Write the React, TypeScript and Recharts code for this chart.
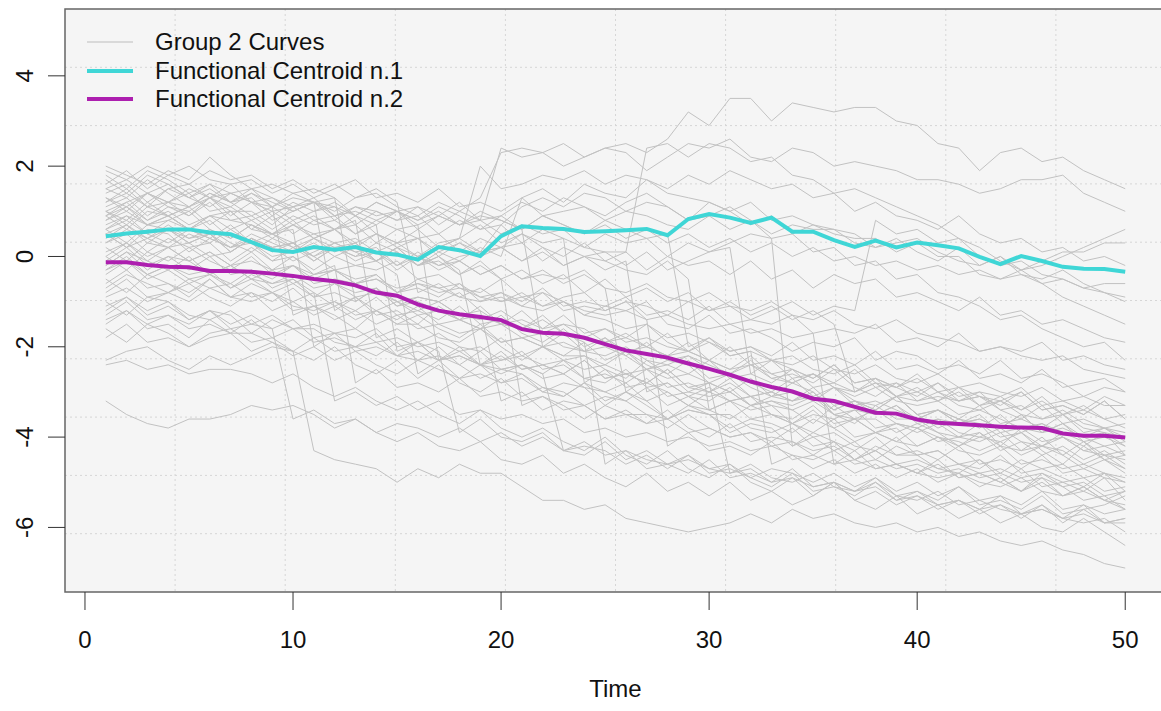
import { LineChart, Line, XAxis, YAxis, CartesianGrid, ReferenceArea, Legend } from 'recharts';

const TIME = [
  1, 2, 3, 4, 5, 6, 7, 8, 9, 10, 11, 12, 13, 14, 15, 16, 17, 18, 19, 20, 21, 22, 23, 24, 25,
  26, 27, 28, 29, 30, 31, 32, 33, 34, 35, 36, 37, 38, 39, 40, 41, 42, 43, 44, 45, 46, 47, 48, 49, 50,
];

// curves that stay high (some jump up around t = 19-27)
const CURVE_U01 = [1.2, 1.4, 1.1, 1.5, 1.6, 1.3, 1.4, 1.2, 1.1, 1.3, 1.2, 1.0, 1.3, 1.4, 1.1, 0.9, 1.2, 1.0, 1.3, 2.3, 2.4, 2.3, 2.5, 2.2, 2.4, 2.5, 2.3, 2.6, 3.2, 2.9, 3.5, 3.5, 3.0, 3.4, 3.3, 3.2, 3.3, 3.3, 3.0, 2.9, 2.5, 2.4, 1.9, 2.3, 2.4, 2.1, 2.2, 1.9, 1.7, 1.5];
const CURVE_U02 = [0.9, 1.2, 1.4, 1.1, 1.0, 1.3, 1.6, 1.2, 1.0, 1.1, 1.3, 0.9, 1.0, 0.8, 1.0, 0.7, 0.9, 1.2, 0.8, 2.4, 2.2, 2.3, 2.0, 2.2, 2.4, 2.3, 1.9, 2.2, 2.5, 2.4, 2.6, 2.2, 2.1, 2.4, 2.3, 2.0, 2.1, 2.0, 1.9, 1.7, 1.7, 1.6, 1.4, 1.5, 1.7, 1.7, 1.8, 1.4, 1.2, 1.0];
const CURVE_U03 = [0.6, 0.9, 0.7, 0.8, 1.0, 0.6, 0.4, 0.7, 0.5, 0.3, 0.5, 0.3, 0.4, 0.1, 0.3, 0.0, 0.3, 0.4, 0.1, 0.2, 0.5, 0.3, 0.4, 0.2, 0.1, 0.1, 2.4, 2.5, 2.2, 2.5, 2.4, 2.1, 2.2, 1.8, 1.7, 1.4, 1.5, 1.3, 1.1, 0.9, 0.7, 0.4, 0.2, -0.1, -0.3, -0.2, 0.0, 0.2, 0.4, 0.6];
const CURVE_U04 = [0.3, 0.6, 0.4, 0.2, 0.5, 0.3, 0.6, 0.3, 0.0, 0.1, 0.4, 0.2, 0.3, -0.1, 0.2, 0.0, 0.2, 0.4, 2.0, 1.5, 1.6, 1.8, 1.7, 1.9, 1.6, 1.8, 1.7, 1.4, 1.3, 1.2, 1.0, 1.2, 0.8, 0.9, 0.7, 0.5, 0.4, 0.4, 0.1, 0.3, 0.0, 0.0, -0.4, -0.5, -0.3, -0.6, -0.9, -1.1, -1.3, -1.5];
const CURVE_U05 = [1.6, 1.9, 1.5, 1.8, 2.0, 1.7, 1.6, 1.7, 1.4, 1.6, 1.3, 1.5, 1.7, 1.3, 1.4, 1.2, 1.5, 1.1, 1.2, 1.0, 1.3, 0.9, 1.0, 1.1, 0.8, 1.0, 0.9, 0.7, 0.6, 0.9, 1.1, 0.8, 0.5, 0.7, 0.6, 0.6, 0.3, 0.2, 0.4, 0.1, -0.1, 0.2, -0.2, 0.0, -0.3, -0.1, 0.1, 0.1, 0.3, 0.3];
const CURVE_U06 = [0.0, 0.3, -0.1, 0.2, 0.3, 0.0, 0.1, 0.4, 0.2, -0.1, 0.1, 0.3, 0.1, 0.2, -0.2, 0.1, -0.2, 0.0, 0.1, 0.7, 1.1, 1.3, 1.1, 1.4, 1.3, 1.0, 1.2, 1.1, 0.8, 1.2, 1.0, 0.7, 0.9, 0.5, 0.7, 0.6, 0.5, 0.2, 0.3, 0.4, 0.1, -0.1, -0.2, 0.0, -0.4, -0.5, -0.3, -0.6, -0.8, -0.9];
const CURVE_U07 = [0.8, 1.1, 0.7, 0.9, 0.6, 0.9, 1.0, 0.6, 0.5, 0.8, 0.4, 0.6, 0.9, 0.5, 0.3, 0.6, 0.2, 0.4, 0.7, 0.3, 0.5, 0.2, 0.0, 0.3, -0.1, 0.1, -0.3, 0.0, -0.2, -0.1, -0.4, -0.1, -0.5, -0.3, -0.7, -0.4, -0.6, -0.5, -0.9, -0.8, -1.0, -1.2, -0.9, -1.3, -1.2, -1.5, -1.4, -1.6, -1.8, -1.9];
const CURVE_U08 = [-0.2, 0.1, -0.3, 0.0, -0.1, -0.4, -0.2, -0.5, -0.3, -0.6, -0.4, -0.3, -0.6, -0.5, -0.8, -0.6, -0.7, -0.9, -0.7, -1.0, -0.8, -1.1, -0.9, -0.8, -1.2, -1.0, -1.1, -1.3, -1.0, -1.2, -1.1, -1.4, -1.2, -1.0, -1.3, -1.1, -1.2, 0.8, 0.5, 0.6, 0.3, 0.4, 0.0, -0.2, -0.1, -0.4, -0.5, -0.7, -0.8, -1.0];
const CURVE_U09 = [1.0, 0.8, 1.2, 0.9, 1.1, 1.4, 1.2, 0.9, 1.1, 0.8, 1.0, 1.2, 0.9, 0.7, 1.0, 0.8, 1.1, 0.9, 0.6, 0.9, 1.2, 1.0, 1.3, 1.1, 0.9, 1.2, 1.4, 1.1, 0.8, 0.9, 0.6, 0.8, 0.4, 0.5, 0.1, 0.2, -0.2, -0.1, -0.5, -0.4, -0.8, -0.9, -1.1, -1.4, -1.3, -1.6, -1.8, -2.0, -1.9, -2.3];
const CURVE_U10 = [0.5, 0.2, 0.4, 0.7, 0.4, 0.6, 0.3, 0.1, 0.4, 0.2, -0.1, 0.2, 0.0, 0.3, 0.1, -0.2, 0.1, -0.1, 0.2, 0.0, 1.3, 1.5, 1.2, 1.6, 1.4, 1.3, 1.7, 1.5, 1.8, 1.6, 1.9, 1.7, 1.5, 1.6, 1.3, 1.4, 1.0, 1.2, 0.9, 0.8, 0.6, 0.9, 0.5, 0.3, 0.4, 0.1, 0.2, -0.1, 0.0, -0.2];
const CURVE_U11 = [1.3, 1.1, 1.4, 1.2, 1.5, 1.3, 1.1, 1.4, 1.2, 1.0, 1.2, 1.1, 0.9, 1.2, 1.0, 0.8, 1.0, 0.7, 0.9, 0.8, 0.6, 0.9, 0.7, 0.5, 0.7, 0.4, 0.6, 0.3, 0.5, 0.2, 0.4, 0.1, 0.3, 0.0, 0.2, -0.1, 0.0, -0.2, -0.1, -0.3, -0.2, -0.4, -0.3, -0.5, -0.4, -0.6, -0.5, -0.7, -0.6, -0.6];

// curves that drift down (many with a sudden drop)
const CURVE_L01 = [1.8, 1.5, 1.9, 1.7, 1.4, 1.6, 1.2, 1.5, 1.3, 1.1, 1.2, -1.2, -0.9, -1.3, -1.2, -1.5, -1.1, -1.4, -1.6, -1.5, -1.8, -1.7, -2.0, -2.1, -1.8, -2.2, -2.5, -2.3, -2.4, -2.8, -2.6, -2.9, -3.1, -2.8, -3.0, -3.4, -3.2, -3.3, -3.1, -3.5, -3.8, -3.6, -3.7, -4.0, -3.9, -4.2, -3.9, -4.1, -4.4, -4.3];
const CURVE_L02 = [1.2, 1.5, 1.1, 1.2, 0.9, 1.3, 1.0, 1.0, 0.7, 1.1, 0.8, 0.9, 0.5, 0.8, 0.6, 0.7, -2.3, -2.0, -2.4, -2.3, -2.1, -2.5, -2.4, -2.7, -2.8, -2.5, -2.9, -2.8, -3.1, -3.2, -2.9, -3.3, -3.2, -3.4, -3.7, -3.3, -3.6, -3.6, -3.9, -3.7, -3.9, -4.2, -4.0, -4.1, -3.9, -4.3, -4.6, -4.2, -4.5, -4.4];
const CURVE_L03 = [0.5, 0.2, 0.6, 0.5, 0.1, 0.4, 0.2, 0.3, -0.1, 0.2, 0.0, -0.3, -0.2, -0.3, -0.1, -0.5, -0.4, -0.7, -0.8, -0.5, -0.9, -0.8, -1.0, -1.3, -1.1, -1.2, -1.0, -1.5, -1.6, -1.3, -1.7, -1.6, -1.8, -2.1, -1.9, -2.0, -1.8, -2.3, -2.1, -2.2, -2.5, -2.4, -2.6, -2.3, -2.7, -2.6, -2.8, -3.1, -2.9, -3.0];
const CURVE_L04 = [-0.5, -0.8, -0.4, -0.6, -0.9, -0.5, -0.9, -1.0, -0.8, -1.2, -1.1, -1.3, -1.6, -1.2, -1.5, -1.5, -1.8, -1.9, -1.6, -2.0, -2.3, -2.0, -2.2, -2.2, -2.5, -2.7, -2.3, -2.6, -3.0, -2.8, -3.0, -3.3, -3.1, -3.2, -3.0, -3.5, -3.7, -3.3, -3.6, -3.6, -3.9, -4.0, -3.7, -4.2, -4.3, -4.0, -4.4, -4.7, -4.5, -4.8];
const CURVE_L05 = [-1.0, -1.3, -0.9, -1.0, -1.4, -1.2, -1.3, -1.7, -1.4, -1.6, -1.6, -1.9, -2.0, -1.7, -2.2, -2.3, -2.0, -2.4, -2.7, -2.5, -2.6, -3.0, -2.8, -2.9, -3.3, -3.0, -3.2, -3.6, -3.4, -3.5, -3.9, -3.7, -3.8, -4.2, -3.9, -4.1, -4.5, -4.2, -4.4, -4.4, -4.7, -4.8, -4.5, -4.9, -5.2, -4.8, -5.1, -5.4, -5.3, -5.6];
const CURVE_L06 = [-1.5, -1.2, -1.6, -1.5, -1.8, -1.4, -1.7, -1.7, -1.9, -2.1, -4.3, -4.5, -4.6, -4.7, -5.0, -4.7, -4.9, -4.6, -4.8, -4.8, -5.1, -5.4, -5.4, -5.6, -5.5, -5.8, -5.9, -6.0, -6.1, -6.0, -5.9, -5.7, -5.9, -5.6, -5.8, -5.7, -5.9, -6.0, -5.9, -6.1, -6.0, -6.2, -6.1, -6.3, -6.4, -6.3, -6.5, -6.6, -6.8, -6.9];
const CURVE_L07 = [-2.4, -2.3, -2.5, -2.4, -2.6, -2.5, -2.5, -2.6, -2.8, -2.6, -2.9, -3.1, -2.9, -3.2, -3.4, -3.2, -3.5, -3.7, -3.4, -3.8, -4.0, -3.8, -4.1, -4.3, -4.0, -4.4, -4.6, -4.3, -4.7, -4.9, -4.6, -5.0, -5.2, -4.9, -5.3, -5.0, -5.4, -5.6, -5.3, -5.7, -5.5, -5.8, -5.6, -5.9, -5.7, -6.0, -6.1, -5.8, -6.1, -6.4];
const CURVE_L08 = [-3.2, -3.5, -3.7, -3.8, -3.6, -3.6, -3.5, -3.3, -3.4, -3.3, -3.5, -3.8, -3.6, -3.9, -4.1, -3.9, -4.2, -4.3, -4.1, -4.5, -4.6, -4.4, -4.8, -4.6, -4.9, -5.1, -4.8, -5.2, -5.0, -5.3, -5.0, -5.4, -5.2, -5.5, -5.3, -5.0, -5.4, -5.2, -5.5, -5.3, -5.6, -5.4, -5.7, -5.5, -5.8, -5.5, -5.9, -5.6, -5.9, -5.8];
const CURVE_L09 = [-2.3, -2.1, -2.0, -2.3, -2.5, -2.2, -2.4, -2.2, -2.0, -2.1, -2.3, -2.0, -2.4, -2.6, -2.3, -2.7, -2.4, -2.8, -3.0, -2.7, -3.1, -2.9, -3.0, -3.3, -3.1, -3.2, -3.5, -3.6, -3.3, -3.5, -3.8, -3.6, -3.7, -3.9, -3.6, -3.8, -4.1, -3.9, -3.8, -4.2, -4.0, -4.1, -4.3, -4.1, -4.4, -4.2, -4.3, -4.6, -4.4, -4.7];
const CURVE_L10 = [2.0, 1.8, 1.6, 1.9, 1.7, 2.2, 1.8, 1.5, 1.6, 1.4, 1.5, 1.3, -1.0, -0.7, -1.1, -0.9, -1.0, -1.3, -1.2, -1.5, -1.2, -1.6, -1.5, -1.6, -1.9, -1.8, -2.0, -1.7, -2.1, -2.3, -2.0, -2.4, -2.3, -2.5, -2.7, -2.4, -2.8, -2.7, -2.9, -3.1, -2.8, -3.2, -3.1, -3.2, -3.0, -3.4, -3.3, -3.5, -3.2, -3.6];
const CURVE_L11 = [1.5, 1.3, 1.7, 1.4, 1.1, 1.4, 1.2, 1.3, 0.9, 1.2, 1.0, 1.1, 0.7, 1.0, 0.8, 0.9, 0.5, 0.8, 0.6, 0.7, 0.3, 0.6, 0.4, -2.8, -2.5, -2.9, -2.8, -3.0, -3.3, -3.0, -3.2, -3.1, -3.5, -3.6, -3.3, -3.7, -3.6, -3.9, -3.7, -3.8, -4.1, -4.0, -4.1, -3.9, -4.3, -4.2, -4.4, -4.1, -4.5, -4.7];
const CURVE_L12 = [1.0, 0.7, 1.1, 0.9, 0.6, 0.9, 0.8, 0.7, 0.4, 0.7, 0.5, 0.6, 0.2, 0.5, 0.3, 0.4, 0.0, 0.3, 0.1, 0.2, -0.1, 0.2, -0.2, 0.0, -0.1, -0.3, -0.4, -0.1, -0.5, -3.4, -3.2, -3.4, -3.3, -3.7, -3.5, -3.6, -3.4, -3.8, -3.7, -3.9, -3.7, -4.0, -3.9, -4.2, -3.8, -4.1, -4.0, -4.3, -4.2, -4.4];
const CURVE_L13 = [0.8, 1.0, 0.7, 0.9, 1.1, 0.7, 1.0, 0.6, 0.9, 0.5, 0.8, 0.6, 0.7, 0.3, 0.6, 0.4, 0.5, 0.1, 0.4, 0.2, 0.3, -0.1, 0.2, 0.0, 0.1, -0.2, 0.1, -0.3, -0.1, 0.1, 0.3, 0.5, 0.4, -4.2, -4.0, -4.3, -4.1, -4.5, -4.2, -4.4, -4.3, -4.6, -4.5, -4.8, -4.5, -4.7, -4.6, -4.9, -4.8, -5.0];
const CURVE_L14 = [0.3, 0.5, 0.1, 0.4, 0.2, 0.3, -0.1, 0.2, -0.1, 0.0, -0.3, 0.0, -0.2, -0.1, -0.4, -2.6, -2.3, -2.7, -2.6, -2.8, -2.7, -3.0, -3.1, -2.8, -3.2, -3.0, -3.3, -3.6, -3.4, -3.5, -3.5, -3.8, -3.9, -3.7, -4.0, -3.9, -4.2, -4.3, -4.0, -4.4, -4.3, -4.6, -4.7, -4.4, -4.8, -4.7, -4.9, -5.1, -4.8, -5.2];
const CURVE_L15 = [-0.3, 0.0, -0.4, -0.2, -0.4, -0.3, -0.7, -0.4, -0.6, -0.5, -0.9, -0.6, -0.8, -0.7, -1.0, -0.9, -1.0, -0.8, -1.2, -3.2, -3.0, -3.4, -3.2, -3.3, -3.6, -3.5, -3.7, -3.4, -3.8, -4.0, -3.7, -4.1, -4.0, -4.1, -4.4, -4.1, -4.5, -4.3, -4.6, -4.8, -4.5, -4.9, -4.8, -5.0, -5.2, -4.9, -5.3, -5.2, -5.4, -5.6];
const CURVE_L16 = [0.0, -0.3, 0.1, -0.1, 0.2, -0.1, -0.3, 0.0, -0.4, -0.2, -0.5, -0.3, -0.5, -0.4, -0.8, -0.5, -0.7, -0.6, -0.9, -0.8, -1.0, -0.7, -1.1, -1.0, -1.1, -0.9, -1.3, -1.2, -1.4, -1.1, -1.5, -1.4, -1.5, -1.3, -1.7, -1.6, -1.7, -1.5, -1.9, -1.8, -2.0, -1.7, -2.1, -2.0, -2.1, -1.9, -2.3, -2.2, -2.4, -2.5];
const CURVE_L17 = [0.6, 0.3, 0.7, 0.6, 0.3, 0.5, 0.1, 0.4, 0.2, 0.3, -0.1, 0.2, 0.0, 0.1, -0.3, 0.0, -0.2, -0.1, -0.4, -0.2, -0.5, -0.4, -0.5, -0.3, -0.7, -3.0, -2.7, -3.1, -3.0, -3.1, -3.0, -3.3, -3.2, -3.3, -3.1, -3.5, -3.4, -3.5, -3.3, -3.7, -3.6, -3.7, -3.5, -3.9, -3.8, -3.9, -3.7, -4.1, -4.0, -4.2];
const CURVE_L18 = [-0.8, -0.5, -0.9, -0.8, -1.0, -0.7, -0.6, -0.9, -0.8, -1.1, -1.2, -1.0, -1.3, -1.2, -1.4, -1.1, -1.5, -1.4, -1.6, -1.3, -1.7, -1.9, -1.6, -2.0, -1.8, -2.1, -2.0, -2.2, -1.9, -2.3, -2.5, -2.2, -2.6, -2.5, -2.7, -2.4, -2.8, -2.7, -2.9, -2.6, -3.0, -2.9, -3.1, -3.3, -3.0, -3.4, -3.3, -3.5, -3.2, -3.6];
const CURVE_L19 = [-1.3, -1.0, -1.4, -1.3, -1.5, -1.2, -1.6, -1.5, -1.6, -1.4, -1.8, -1.7, -1.8, -1.6, -2.0, -1.9, -2.1, -3.9, -3.6, -4.0, -4.1, -3.9, -4.3, -4.2, -4.3, -4.6, -4.4, -4.7, -4.4, -4.8, -4.7, -4.9, -5.1, -4.8, -5.2, -5.1, -5.3, -5.0, -5.4, -5.2, -5.5, -5.4, -5.6, -5.3, -5.7, -5.6, -5.8, -5.5, -5.9, -5.8];
const CURVE_L20 = [1.3, 1.0, 1.4, 1.2, 1.1, 1.3, 0.9, 1.2, 0.8, 1.0, 1.2, 0.8, 1.1, 0.9, 1.0, 0.6, 0.9, 0.7, 0.8, 0.5, 0.7, 0.5, 0.6, 0.2, 0.5, 0.3, 0.4, 0.0, 0.3, 0.1, 0.2, -2.6, -2.3, -2.7, -2.6, -2.8, -2.5, -2.9, -2.8, -3.0, -2.8, -3.1, -3.0, -3.1, -2.9, -3.3, -3.2, -3.4, -3.1, -3.3];
const CURVE_L21 = [0.2, -0.1, 0.3, 0.2, -0.1, 0.1, -0.2, 0.1, -0.3, 0.0, -0.4, -0.2, -2.8, -2.5, -2.9, -2.8, -3.0, -2.7, -3.1, -3.0, -3.2, -3.1, -3.3, -3.6, -3.3, -3.5, -3.5, -3.8, -3.5, -3.8, -4.0, -3.9, -4.1, -3.8, -4.2, -4.1, -4.3, -4.0, -4.4, -4.3, -4.5, -4.2, -4.6, -4.5, -4.7, -4.4, -4.8, -4.7, -4.9, -5.0];
const CURVE_L22 = [-1.8, -1.5, -1.9, -1.8, -2.0, -1.7, -1.6, -1.9, -1.8, -2.1, -1.8, -2.1, -2.0, -2.2, -1.9, -2.3, -2.2, -2.4, -2.1, -2.5, -2.4, -2.6, -2.3, -2.7, -2.6, -2.8, -2.5, -2.9, -2.8, -3.0, -2.7, -3.1, -3.0, -3.2, -2.9, -3.3, -3.2, -3.4, -3.1, -3.5, -3.4, -3.6, -3.3, -3.7, -3.6, -3.8, -3.5, -3.9, -3.8, -4.0];
const CURVE_L23 = [1.7, 1.4, 1.8, 1.6, 1.3, 1.6, 1.4, 1.5, 1.1, 1.4, 1.2, 1.3, 0.9, 1.2, 1.0, 1.1, 0.7, 1.0, 0.8, 0.9, 0.6, -2.0, -1.7, -2.1, -2.0, -2.2, -1.9, -2.3, -2.2, -2.4, -2.6, -2.3, -2.7, -2.6, -2.8, -2.5, -2.9, -3.1, -2.8, -3.2, -3.1, -3.2, -3.0, -3.4, -3.6, -3.3, -3.7, -3.6, -3.8, -3.9];
const CURVE_L24 = [-0.1, 0.2, -0.2, 0.0, -0.3, 0.0, -0.4, -0.3, -0.5, -0.2, -0.6, -0.5, -0.6, -0.4, -0.8, -0.7, -0.9, -0.6, -1.0, -0.9, -1.1, -0.8, -1.2, -1.1, -1.2, -1.0, -1.4, -4.2, -3.9, -4.3, -4.2, -4.4, -4.1, -4.5, -4.4, -4.6, -4.3, -4.7, -4.6, -4.8, -4.6, -4.9, -4.8, -5.0, -4.7, -5.1, -5.0, -5.2, -4.9, -5.4];
const CURVE_L25 = [0.9, 0.6, 1.0, 0.9, 0.6, 0.8, 0.4, 0.7, 0.5, 0.6, -2.0, -1.7, -2.1, -2.0, -2.2, -1.9, -2.3, -2.2, -2.4, -2.1, -2.5, -2.4, -2.6, -2.3, -2.7, -2.6, -2.8, -2.5, -2.9, -2.8, -3.0, -2.7, -3.1, -3.0, -3.2, -2.9, -3.3, -3.2, -3.4, -3.6, -3.4, -3.7, -3.6, -3.8, -3.5, -3.9, -3.8, -4.0, -4.2, -4.1];
const CURVE_L26 = [-0.6, -0.3, -0.7, -0.6, -0.8, -0.5, -0.9, -0.8, -1.0, -0.7, -1.1, -1.0, -1.2, -0.9, -1.3, -1.2, -1.4, -1.1, -1.5, -1.4, -1.6, -1.3, -1.7, -1.9, -4.6, -4.3, -4.7, -4.6, -4.8, -4.5, -4.9, -4.8, -5.0, -4.7, -5.1, -5.0, -5.2, -4.9, -5.3, -5.2, -5.4, -5.1, -5.5, -5.4, -5.6, -5.3, -5.7, -5.6, -5.5, -5.3];
const CURVE_L27 = [1.1, 1.3, 0.9, 1.2, 1.4, 1.0, 1.1, 0.8, 1.0, 0.7, 0.9, 0.6, 0.8, -1.8, -1.6, -1.9, -1.7, -2.0, -2.1, -1.8, -2.2, -2.0, -2.3, -2.2, -2.4, -2.1, -2.5, -2.4, -2.6, -2.3, -2.7, -2.6, -2.8, -2.5, -2.9, -2.8, -3.0, -2.7, -3.1, -3.0, -3.2, -2.9, -3.3, -3.2, -3.4, -3.1, -3.5, -3.4, -3.6, -3.5];
const CURVE_L28 = [-1.2, -0.9, -1.3, -1.1, -1.4, -1.2, -1.5, -1.3, -1.6, -3.6, -3.4, -3.7, -3.6, -3.9, -3.7, -3.8, -4.0, -3.8, -4.1, -3.9, -4.2, -4.0, -4.3, -4.4, -4.1, -4.5, -4.3, -4.6, -4.5, -4.7, -4.6, -4.9, -4.7, -4.8, -5.0, -4.8, -5.1, -4.9, -5.2, -5.0, -5.3, -5.1, -5.4, -5.3, -5.5, -5.2, -5.6, -5.5, -5.7, -5.6];
const CURVE_L29 = [0.4, 0.7, 0.3, 0.6, 0.4, 0.5, 0.1, 0.4, 0.2, 0.3, 0.0, 0.3, 0.1, -0.1, 0.2, -0.2, 0.0, -0.3, -2.4, -2.2, -2.5, -2.4, -2.6, -2.3, -2.7, -2.6, -2.8, -2.5, -2.9, -3.0, -2.8, -3.1, -3.0, -3.2, -3.1, -3.4, -3.2, -3.5, -3.3, -3.6, -3.4, -3.7, -3.6, -3.8, -3.5, -3.9, -3.7, -4.0, -3.8, -4.1];
const CURVE_L30 = [-0.9, -0.7, -1.0, -0.8, -0.6, -0.9, -1.1, -0.8, -1.2, -1.0, -1.3, -1.1, -1.4, -1.2, -1.5, -1.3, -1.6, -1.8, -1.5, -1.9, -1.8, -2.0, -2.2, -1.9, -2.3, -2.1, -2.4, -2.6, -2.3, -2.7, -2.6, -2.8, -3.0, -2.7, -3.1, -2.9, -3.2, -3.4, -3.1, -3.5, -3.4, -3.6, -3.8, -3.5, -3.9, -3.7, -4.0, -4.2, -3.9, -4.4];
const CURVE_L31 = [1.4, 1.6, 1.2, 1.5, 1.3, 1.1, 1.4, 1.2, 1.3, 1.0, 1.2, 0.9, 1.1, 1.0, 0.8, 1.1, 0.9, 0.7, 1.0, 0.8, 0.6, 0.9, 0.7, 0.5, 0.8, 0.6, 0.4, 0.5, -2.0, -1.8, -2.1, -2.0, -2.2, -1.9, -2.3, -2.2, -2.4, -2.1, -2.5, -2.4, -2.6, -2.3, -2.7, -2.6, -2.8, -2.5, -2.9, -2.8, -2.7, -3.0];
const CURVE_L32 = [-0.4, -0.1, -0.5, -0.3, -0.6, -0.4, -0.7, -0.5, -0.8, -0.6, -0.9, -0.8, -1.0, -0.7, -1.1, -1.0, -1.2, -1.4, -1.1, -1.5, -1.4, -1.6, -1.3, -1.7, -1.6, -1.8, -1.5, -1.9, -2.1, -1.8, -2.2, -2.1, -4.6, -4.4, -4.7, -4.5, -4.8, -4.6, -4.9, -4.7, -5.0, -4.8, -5.1, -4.9, -5.2, -5.0, -5.3, -5.1, -5.4, -5.2];
const CURVE_L33 = [-1.6, -1.9, -1.5, -1.7, -2.0, -1.8, -1.7, -2.1, -1.9, -2.2, -2.0, -2.3, -2.1, -2.4, -2.6, -2.3, -2.5, -2.7, -2.4, -2.8, -2.6, -2.9, -3.1, -2.8, -3.0, -3.2, -2.9, -3.3, -3.1, -3.4, -3.6, -3.3, -3.5, -3.7, -3.4, -3.8, -3.6, -3.9, -4.1, -3.8, -4.0, -4.2, -3.9, -4.3, -4.1, -4.4, -4.2, -4.5, -4.3, -4.6];
const CURVE_L34 = [0.7, 0.9, 0.5, 0.8, 0.6, 0.4, 0.7, 0.3, 0.5, 0.2, 0.4, 0.1, 0.3, -0.1, 0.2, -0.2, 0.0, -0.4, -0.1, -0.5, -0.3, -0.6, -0.4, -0.8, -0.5, -0.9, -0.7, -1.0, -0.8, -1.2, -1.0, -1.3, -1.1, -1.4, -1.2, -1.5, -3.0, -2.8, -3.1, -2.9, -3.2, -3.0, -3.3, -3.1, -3.4, -3.2, -3.5, -3.3, -3.6, -3.8];
const CURVE_L35 = [1.0, 1.2, 0.8, 1.1, 0.9, 1.2, 0.8, 0.9, 0.6, 0.9, 0.7, 0.8, 0.5, 0.7, -2.1, -1.9, -2.3, -2.1, -2.4, -2.6, -2.4, -2.7, -2.6, -2.9, -3.0, -2.8, -3.2, -3.0, -3.3, -3.4, -3.2, -3.6, -3.5, -3.7, -3.9, -3.6, -4.0, -3.9, -4.1, -4.2, -4.0, -4.3, -4.4, -4.2, -4.6, -4.5, -4.7, -4.6, -4.8, -4.9];
const CURVE_L36 = [-0.2, 0.1, -0.1, -0.3, 0.0, -0.4, -0.2, -0.5, -0.6, -0.4, -0.7, -0.6, -0.9, -0.8, -1.0, -1.2, -1.0, -1.3, -1.4, -1.2, -1.5, -1.7, -1.5, -1.8, -1.9, -1.7, -2.0, -2.2, -2.1, -2.3, -2.5, -2.4, -2.6, -2.8, -2.6, -2.9, -3.1, -2.9, -3.2, -3.3, -3.2, -3.5, -3.4, -3.6, -3.8, -3.7, -3.9, -4.0, -3.9, -4.2];
const CURVE_L37 = [0.6, 0.8, 0.5, 0.3, 0.6, 0.4, 0.2, 0.5, 0.3, 0.1, 0.3, 0.0, 0.2, -0.1, 0.1, -0.2, -0.1, -0.4, -0.2, -0.5, -3.3, -3.1, -3.4, -3.3, -3.6, -3.4, -3.7, -3.6, -3.9, -3.8, -4.0, -3.9, -4.2, -4.1, -4.3, -4.2, -4.5, -4.3, -4.6, -4.5, -4.7, -4.6, -4.8, -4.7, -4.9, -4.8, -5.0, -4.9, -5.2, -5.1];
const CURVE_L38 = [-1.1, -0.9, -1.2, -1.0, -1.3, -1.4, -1.2, -1.5, -1.3, -1.6, -1.5, -1.7, -1.6, -1.9, -1.8, -2.0, -1.9, -2.1, -2.0, -2.3, -2.2, -2.4, -2.3, -2.5, -2.4, -2.6, -2.5, -2.7, -2.6, -2.8, -4.8, -4.7, -5.0, -4.9, -5.1, -5.0, -5.2, -5.1, -5.4, -5.3, -5.5, -5.4, -5.6, -5.5, -5.7, -5.6, -5.8, -5.9, -5.8, -6.1];
const CURVE_L39 = [1.5, 1.7, 1.4, 1.6, 1.3, 1.5, 1.2, 1.4, 1.1, -1.3, -1.1, -1.4, -1.2, -1.5, -1.3, -1.6, -1.5, -1.7, -1.6, -1.9, -1.8, -2.0, -1.9, -2.1, -2.2, -2.0, -2.3, -2.4, -2.2, -2.5, -2.6, -2.4, -2.7, -2.8, -2.6, -2.9, -3.0, -2.8, -3.1, -3.2, -3.0, -3.3, -3.4, -3.2, -3.5, -3.6, -3.4, -3.7, -3.8, -3.7];
const CURVE_L40 = [0.1, 0.3, 0.0, 0.2, -0.1, 0.1, -0.2, -0.1, -0.3, -0.2, -0.4, -0.3, -0.6, -0.5, -0.7, -0.6, -0.8, -0.7, -0.9, -1.0, -0.9, -1.1, -1.0, -1.2, -1.3, -1.2, -1.4, -1.3, -1.5, -1.6, -1.5, -1.7, -1.6, -1.8, -1.7, -4.6, -4.5, -4.7, -4.6, -4.8, -4.9, -4.8, -5.0, -5.1, -4.9, -5.2, -5.3, -5.1, -5.4, -5.5];
const CURVE_L41 = [-0.7, -0.4, -0.6, -0.8, -0.5, -0.7, -0.9, -0.6, -0.8, -1.0, -0.8, -1.1, -0.9, -1.2, -1.0, -1.3, -1.2, -1.4, -1.3, -1.5, -1.6, -1.4, -1.7, -1.8, -1.6, -1.9, -1.8, -2.0, -2.1, -1.9, -2.2, -2.1, -2.3, -2.4, -2.2, -2.5, -2.6, -2.4, -2.7, -2.8, -2.6, -2.9, -2.8, -3.0, -3.1, -2.9, -3.2, -3.1, -3.3, -3.3];
const CURVE_L42 = [1.9, 1.7, 2.0, 1.8, 1.6, 1.9, 1.7, 1.8, 1.5, 1.7, 1.4, 1.6, 1.3, 1.5, 1.2, -0.8, -0.6, -0.9, -1.0, -0.8, -1.1, -1.2, -1.0, -1.3, -1.4, -1.6, -1.5, -1.8, -1.7, -1.9, -2.1, -2.0, -2.3, -2.2, -2.5, -2.6, -2.4, -2.8, -2.9, -2.7, -3.0, -3.2, -3.1, -3.4, -3.3, -3.6, -3.5, -3.8, -3.9, -4.0];
const CURVE_L43 = [-1.4, -1.2, -1.5, -1.3, -1.6, -1.5, -1.7, -1.4, -1.8, -1.6, -1.9, -1.8, -2.0, -1.9, -2.2, -2.1, -2.3, -2.2, -2.4, -2.5, -2.4, -2.6, -4.3, -4.1, -4.4, -4.3, -4.5, -4.6, -4.4, -4.7, -4.8, -4.6, -4.9, -5.0, -4.8, -5.1, -5.2, -5.0, -5.3, -5.4, -5.2, -5.5, -5.4, -5.6, -5.7, -5.5, -5.8, -5.7, -5.9, -5.9];
const CURVE_L44 = [0.5, 0.7, 0.4, 0.6, 0.3, 0.5, 0.2, 0.4, 0.1, 0.3, 0.0, 0.2, -0.1, 0.1, -0.2, 0.0, -0.3, -0.1, -0.4, -0.2, -0.5, -0.3, -0.6, -0.4, -0.7, -0.8, -0.6, -0.9, -1.0, -0.8, -1.1, -1.2, -1.0, -1.3, -1.4, -1.2, -1.5, -1.6, -1.4, -1.7, -1.8, -1.9, -2.1, -2.0, -2.2, -2.3, -2.2, -2.5, -2.6, -2.7];
const CURVE_L45 = [-0.3, -0.1, -0.4, -0.2, -0.5, -0.4, -0.6, -0.3, -0.7, -0.5, -0.8, -3.2, -3.0, -3.3, -3.1, -3.4, -3.2, -3.5, -3.4, -3.6, -3.5, -3.7, -3.6, -3.9, -3.8, -4.0, -3.9, -4.1, -4.0, -4.2, -4.1, -4.3, -4.2, -4.4, -4.5, -4.3, -4.6, -4.5, -4.7, -4.6, -4.8, -4.7, -4.9, -4.8, -5.0, -4.9, -5.1, -5.0, -5.3, -5.2];
const CURVE_L46 = [0.9, 1.1, 0.8, 1.0, 0.7, 0.9, 0.6, 0.8, 0.5, 0.7, 0.4, 0.6, 0.3, 0.5, 0.2, 0.4, 0.1, 0.3, 0.0, 0.2, -0.1, 0.1, -0.2, 0.0, -0.3, -0.1, -3.0, -2.8, -3.1, -2.9, -3.2, -3.1, -3.3, -3.4, -3.2, -3.5, -3.6, -3.4, -3.7, -3.8, -3.6, -3.9, -4.0, -3.8, -4.1, -4.2, -4.0, -4.3, -4.4, -4.5];

const CENTROID_1 = [0.45, 0.51, 0.55, 0.6, 0.6, 0.53, 0.49, 0.32, 0.14, 0.1, 0.21, 0.15, 0.21, 0.09, 0.04, -0.07, 0.21, 0.14, 0.01, 0.45, 0.67, 0.63, 0.61, 0.54, 0.56, 0.58, 0.61, 0.47, 0.83, 0.94, 0.86, 0.74, 0.86, 0.55, 0.55, 0.36, 0.21, 0.35, 0.2, 0.31, 0.25, 0.18, -0.01, -0.17, 0.01, -0.1, -0.23, -0.27, -0.28, -0.34];
const CENTROID_2 = [-0.13, -0.13, -0.19, -0.23, -0.24, -0.32, -0.32, -0.34, -0.38, -0.43, -0.5, -0.55, -0.64, -0.8, -0.87, -1.06, -1.2, -1.28, -1.34, -1.41, -1.61, -1.69, -1.71, -1.8, -1.94, -2.08, -2.16, -2.24, -2.37, -2.49, -2.62, -2.77, -2.89, -2.99, -3.15, -3.2, -3.33, -3.46, -3.48, -3.61, -3.68, -3.71, -3.74, -3.77, -3.79, -3.8, -3.92, -3.97, -3.97, -4.01];

const X_TICKS = [0, 10, 20, 30, 40, 50];
const Y_TICKS = [-6, -4, -2, 0, 2, 4];
const LEGEND_LABELS = ['Group 2 Curves', 'Functional Centroid n.1', 'Functional Centroid n.2'];

const X_DOMAIN: [number, number] = [-0.96, 51.96];
const Y_DOMAIN: [number, number] = [-7.43, 5.48];

const GRAY = '#C2C2C2';
const CYAN = '#3FD6D6';
const MAGENTA = '#AD1FAF';
const FONT = '"Liberation Sans", Arial, Helvetica, sans-serif';

const LEGEND_COLORS = ['#CFCFCF', CYAN, MAGENTA];
const LEGEND_WIDTHS = [1.5, 4, 4];

const GROUP2_CURVES = [
  CURVE_U01, CURVE_U02, CURVE_U03, CURVE_U04, CURVE_U05, CURVE_U06, CURVE_U07, CURVE_U08, CURVE_U09, CURVE_U10, CURVE_U11,
  CURVE_L01, CURVE_L02, CURVE_L03, CURVE_L04, CURVE_L05, CURVE_L06, CURVE_L07, CURVE_L08, CURVE_L09, CURVE_L10,
  CURVE_L11, CURVE_L12, CURVE_L13, CURVE_L14, CURVE_L15, CURVE_L16, CURVE_L17, CURVE_L18, CURVE_L19, CURVE_L20,
  CURVE_L21, CURVE_L22, CURVE_L23, CURVE_L24, CURVE_L25, CURVE_L26, CURVE_L27, CURVE_L28, CURVE_L29, CURVE_L30,
  CURVE_L31, CURVE_L32, CURVE_L33, CURVE_L34, CURVE_L35, CURVE_L36, CURVE_L37, CURVE_L38, CURVE_L39, CURVE_L40,
  CURVE_L41, CURVE_L42, CURVE_L43, CURVE_L44, CURVE_L45, CURVE_L46,
];

const data = TIME.map((t, i) => {
  const row: Record<string, number> = { t, c1: CENTROID_1[i], c2: CENTROID_2[i] };
  GROUP2_CURVES.forEach((curve, k) => {
    row[`g${k}`] = curve[i];
  });
  return row;
});

// R's grid(): 10 equal cells across the plot region
const tenths = (start: number, size: number) =>
  Array.from({ length: 9 }, (_, k) => start + (size * (k + 1)) / 10);

const XTick = ({ x, y, payload }: any) => (
  <text x={x} y={y + 38} textAnchor="middle" fontSize={24} fontFamily={FONT} fill="#111">
    {payload.value}
  </text>
);

const YTick = ({ x, y, payload }: any) => (
  <text
    x={x - 15}
    y={y}
    transform={`rotate(-90, ${x - 15}, ${y})`}
    textAnchor="middle"
    fontSize={24}
    fontFamily={FONT}
    fill="#111"
  >
    {payload.value}
  </text>
);

const LegendBox = () => (
  <div style={{ fontFamily: FONT, fontSize: 24, color: '#111' }}>
    {LEGEND_LABELS.map((label, i) => (
      <div key={label} style={{ display: 'flex', alignItems: 'center', height: 28.5 }}>
        <svg width={46} height={8} style={{ marginRight: 22 }}>
          <line x1={0} x2={46} y1={4} y2={4} stroke={LEGEND_COLORS[i]} strokeWidth={LEGEND_WIDTHS[i]} />
        </svg>
        <span style={{ lineHeight: '28.5px', whiteSpace: 'nowrap' }}>{label}</span>
      </div>
    ))}
  </div>
);

export default function App() {
  return (
    <div
      style={{
        position: 'absolute',
        left: 0,
        top: 0,
        width: 1161,
        height: 711,
        overflow: 'hidden',
        background: '#fff',
      }}
    >
      <LineChart width={1170} height={711} data={data} margin={{ top: 9, right: 4, bottom: 0, left: 0 }}>
        <CartesianGrid
          fill="#F5F5F5"
          fillOpacity={1}
          stroke="#D6D6D6"
          strokeDasharray="2 3"
          verticalCoordinatesGenerator={({ offset }: any) => tenths(offset.left, offset.width)}
          horizontalCoordinatesGenerator={({ offset }: any) => tenths(offset.top, offset.height)}
        />
        <XAxis
          type="number"
          dataKey="t"
          domain={X_DOMAIN}
          ticks={X_TICKS}
          allowDataOverflow
          height={119}
          tickSize={18}
          tickMargin={0}
          axisLine={false}
          tickLine={{ stroke: '#333' }}
          tick={<XTick />}
          label={{ value: 'Time', position: 'insideBottom', offset: 14, fontSize: 24, fontFamily: FONT, fill: '#111' }}
        />
        <YAxis
          type="number"
          domain={Y_DOMAIN}
          ticks={Y_TICKS}
          allowDataOverflow
          width={65}
          tickSize={17}
          tickMargin={0}
          axisLine={false}
          tickLine={{ stroke: '#333' }}
          tick={<YTick />}
        />
        <ReferenceArea
          x1={X_DOMAIN[0]}
          x2={X_DOMAIN[1]}
          y1={Y_DOMAIN[0]}
          y2={Y_DOMAIN[1]}
          fill="none"
          stroke="#666"
          strokeWidth={1.5}
        />
        {GROUP2_CURVES.map((_, k) => (
          <Line
            key={k}
            dataKey={`g${k}`}
            stroke={GRAY}
            strokeWidth={1}
            dot={false}
            activeDot={false}
            legendType="none"
            isAnimationActive={false}
          />
        ))}
        <Line dataKey="c1" stroke={CYAN} strokeWidth={4} dot={false} activeDot={false} isAnimationActive={false} />
        <Line dataKey="c2" stroke={MAGENTA} strokeWidth={4} dot={false} activeDot={false} isAnimationActive={false} />
        <Legend
          content={<LegendBox />}
          layout="vertical"
          align="center"
          verticalAlign="middle"
          wrapperStyle={{ left: 87, top: 28, width: 'auto', height: 'auto' }}
        />
      </LineChart>
    </div>
  );
}
